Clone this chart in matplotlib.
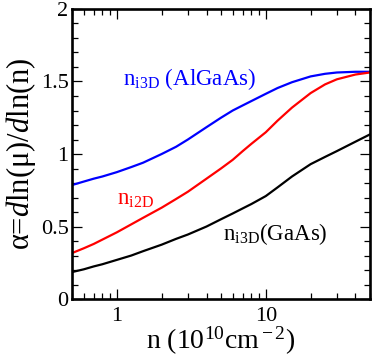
import matplotlib
matplotlib.use("Agg")
from matplotlib import pyplot as plt
from matplotlib.ticker import LogLocator, MultipleLocator, FixedLocator, FixedFormatter, NullFormatter

# values
n_vals = [0.5, 0.6, 0.7, 0.8, 1, 1.25, 1.5, 2, 2.5, 3, 4, 5, 6, 7, 8, 10, 12, 15, 20, 25, 30, 40, 50]
alpha_algaas = [0.786, 0.81, 0.83, 0.845, 0.875, 0.91, 0.94, 1.00, 1.05, 1.10, 1.185, 1.25, 1.30,
                1.335, 1.365, 1.415, 1.455, 1.495, 1.535, 1.553, 1.562, 1.567, 1.567]
alpha_2d = [0.317, 0.35, 0.38, 0.41, 0.46, 0.515, 0.56, 0.63, 0.69, 0.74, 0.83, 0.90, 0.96,
            1.02, 1.07, 1.15, 1.23, 1.32, 1.42, 1.48, 1.515, 1.548, 1.562]
alpha_gaas = [0.186, 0.205, 0.225, 0.24, 0.27, 0.30, 0.33, 0.375, 0.415, 0.445, 0.50, 0.55, 0.59,
              0.625, 0.655, 0.71, 0.77, 0.845, 0.93, 0.98, 1.02, 1.085, 1.135]

plt.rcParams['font.family'] = ['Liberation Serif', 'DejaVu Serif']
plt.rcParams['mathtext.fontset'] = 'custom'
plt.rcParams['mathtext.rm'] = 'Liberation Serif'
plt.rcParams['mathtext.it'] = 'Liberation Serif:italic'

fig = plt.figure(figsize=(3.74, 3.59), dpi=100)
ax = fig.add_axes([0.1925, 0.167, 0.7965, 0.808])

ax.plot(n_vals, alpha_algaas, color='#0000ff', lw=1.6)
ax.plot(n_vals, alpha_2d, color='#ff0000', lw=1.6)
ax.plot(n_vals, alpha_gaas, color='black', lw=1.6)

ax.set_xscale('log')
ax.set_xlim(0.5, 50)
ax.set_ylim(0, 2)

ax.xaxis.set_major_locator(FixedLocator([1, 10]))
ax.xaxis.set_major_formatter(FixedFormatter(['1', '10']))
ax.xaxis.set_minor_locator(LogLocator(base=10, subs=range(2, 10)))
ax.xaxis.set_minor_formatter(NullFormatter())
ax.yaxis.set_major_locator(MultipleLocator(0.5))
ax.yaxis.set_minor_locator(MultipleLocator(0.1))
ax.yaxis.set_major_formatter(plt.FuncFormatter(lambda v, p: f"{v:g}"))

ax.tick_params(which='both', direction='in', top=True, right=True, width=0.9, labelsize=16)
ax.tick_params(which='major', length=7.5)
ax.tick_params(which='minor', length=4)
ax.tick_params(axis='y', pad=2.5)
ax.tick_params(axis='x', pad=6)
for s in ax.spines.values():
    s.set_linewidth(1.9)

ax.text(1.1, 1.476, r'n$_{\rm i3D}$ (AlGaAs)', color='#0000ff', fontsize=16.5, va='baseline')
ax.text(1.0, 0.65, r'n$_{\rm i2D}$', color='#ff0000', fontsize=16.5, va='baseline')
ax.text(5.15, 0.41, r'n$_{\rm i3D}$(GaAs)', color='black', fontsize=16.5, va='baseline')

ax.set_xlabel(r'n (10$^{10}$cm$^{\rm -2}$)', fontsize=20, labelpad=-1)
ax.set_ylabel(r'α=$\it{d}$ln(μ)/$\it{d}$ln(n)', fontsize=22, labelpad=2)

fig.savefig('out.png', dpi=100)
